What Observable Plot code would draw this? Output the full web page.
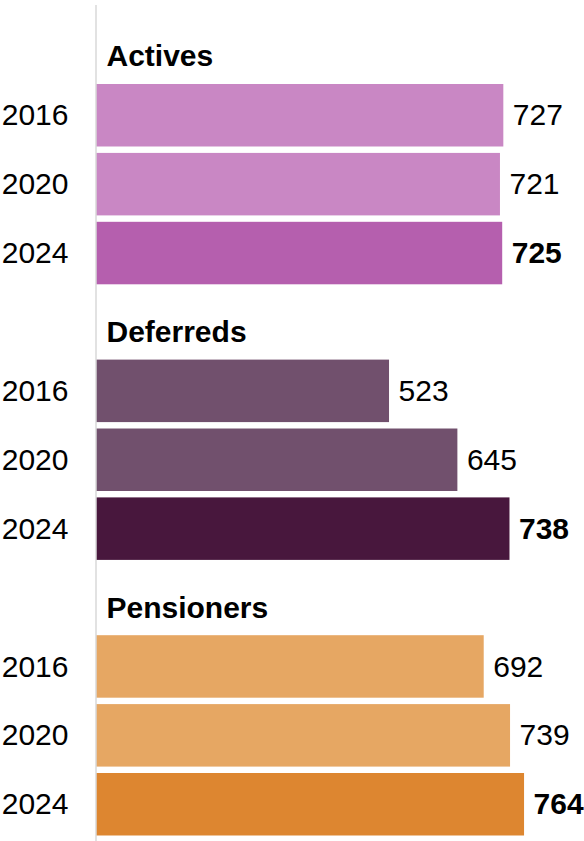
<!DOCTYPE html>
<html>
<head>
<meta charset="utf-8">
<script src="https://cdn.jsdelivr.net/npm/d3@7"></script>
<script src="https://cdn.jsdelivr.net/npm/@observablehq/plot@0.6"></script>
<style>
  html, body { margin: 0; padding: 0; background: #fff; }
  #chart svg { display: block; }
</style>
</head>
<body>
<div id="chart"></div>
<script>
const groups = ["Actives", "Deferreds", "Pensioners"];
const years = ["2016", "2020", "2024"];
const actives = [727, 721, 725];
const deferreds = [523, 645, 738];
const pensioners = [692, 739, 764];
const colorsActives = ["#C987C4", "#C987C4", "#B55FAE"];
const colorsDeferreds = ["#71506D", "#71506D", "#48173D"];
const colorsPensioners = ["#E6A763", "#E6A763", "#DD8630"];

const seriesValues = [actives, deferreds, pensioners];
const seriesColors = [colorsActives, colorsDeferreds, colorsPensioners];

const rows = [];
const titles = [];
const domain = [];
groups.forEach((g, gi) => {
  const tkey = g + "|title";
  domain.push(tkey);
  titles.push({key: tkey, label: g});
  years.forEach((yr, yi) => {
    const key = g + "|" + yr;
    domain.push(key);
    rows.push({key, group: g, year: yr, value: seriesValues[gi][yi], color: seriesColors[gi][yi], bold: yi === years.length - 1});
  });
});

const font = "Liberation Sans, Arial, Helvetica, sans-serif";

const chart = Plot.plot({
  width: 584,
  height: 841,
  marginLeft: 96,
  marginRight: 0,
  marginTop: 9,
  marginBottom: 0,
  style: {fontFamily: font, background: "#fff", overflow: "visible"},
  x: {domain: [0, 871], axis: null},
  y: {domain, axis: null, paddingInner: 0.093, paddingOuter: 0.093, range: [8.7, 841.9], round: false},
  marks: [
    Plot.barX(rows, {x: "value", y: "key", fill: "color"}),
    Plot.ruleX([0], {stroke: "#d9d9d9", strokeWidth: 1.5, dx: -0.5, insetTop: -4}),
    Plot.text(rows, {x: 0, y: "key", text: "year", textAnchor: "end", dx: -28, fontSize: 30, fill: "#000"}),
    Plot.text(rows.filter(d => !d.bold), {x: "value", y: "key", text: d => String(d.value), textAnchor: "start", dx: 9, fontSize: 30, fill: "#000"}),
    Plot.text(rows.filter(d => d.bold), {x: "value", y: "key", text: d => String(d.value), textAnchor: "start", dx: 9, fontSize: 30, fontWeight: "bold", fill: "#000"}),
    Plot.text(titles, {x: 0, y: "key", text: "label", textAnchor: "start", dx: 10, dy: 10, fontSize: 30, fontWeight: "bold", fill: "#000"})
  ]
});
document.getElementById("chart").appendChild(chart);
</script>
</body>
</html>
